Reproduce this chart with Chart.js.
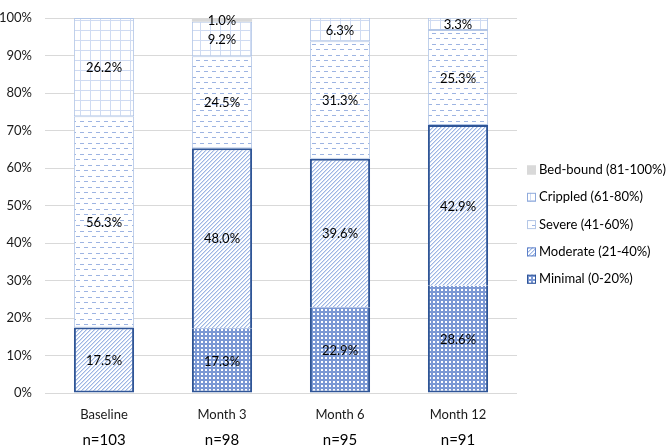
<!DOCTYPE html>
<html>
<head>
<meta charset="utf-8">
<script src="https://cdn.jsdelivr.net/npm/chart.js@4"></script>
<style>
  html, body { margin: 0; padding: 0; background: #fff; }
  #wrap { width: 667px; height: 446px; }
</style>
</head>
<body>
<div id="wrap"><canvas id="chart"></canvas></div>
<script>
// bandas de disfunção por visita (% de pacientes)
const visits = ["Baseline", "Month 3", "Month 6", "Month 12"];
const sampleSizes = ["n=103", "n=98", "n=95", "n=91"];
const minimal = [null, 17.3, 22.9, 28.6];
const moderate = [17.5, 48.0, 39.6, 42.9];
const severe = [56.3, 24.5, 31.3, 25.3];
const crippled = [26.2, 9.2, 6.3, 3.3];
const bedBound = [null, 1.0, null, null];
const yTicks = [0, 10, 20, 30, 40, 50, 60, 70, 80, 90, 100];

const FONT = "Lato, 'Liberation Sans', sans-serif";
const DARK = "#2F5597";
const LIGHT = "#B4C7E7";

Chart.defaults.font.family = FONT;
Chart.defaults.font.size = 13;
Chart.defaults.color = "#1a1a1a";

function makePattern(w, h, paint) {
  const c = document.createElement("canvas");
  c.width = w;
  c.height = h;
  const g = c.getContext("2d");
  g.fillStyle = "#ffffff";
  g.fillRect(0, 0, w, h);
  paint(g);
  return g.createPattern(c, "repeat");
}

const dotsPattern = makePattern(4, 4, (g) => {
  g.fillStyle = "#7B98D4";
  g.fillRect(0, 0, 4, 4);
  g.fillStyle = "#ffffff";
  g.fillRect(1, 1, 2, 2);
});
const diagPattern = makePattern(4, 4, (g) => {
  for (let i = 0; i < 4; i++) {
    g.fillStyle = "#9DB5E3";
    g.fillRect(i, 3 - i, 1, 1);
    g.fillStyle = "#D3DFF4";
    g.fillRect((i + 1) % 4, 3 - i, 1, 1);
  }
});
const dashPattern = makePattern(8, 11, (g) => {
  g.fillStyle = "#9DB4E2";
  g.fillRect(0, 0, 4, 1);
  g.fillRect(4, 5, 4, 1);
});
const gridPattern = makePattern(10, 10, (g) => {
  g.fillStyle = "#CFDBF2";
  g.fillRect(0, 0, 10, 1);
  g.fillRect(0, 0, 1, 10);
});

const dataLabels = {
  id: "dataLabels",
  afterDatasetsDraw(chart) {
    const { ctx } = chart;
    ctx.save();
    ctx.font = `13px ${FONT}`;
    ctx.fillStyle = "#000";
    ctx.textAlign = "center";
    ctx.textBaseline = "middle";
    chart.data.datasets.forEach((ds, di) => {
      const meta = chart.getDatasetMeta(di);
      meta.data.forEach((el, i) => {
        const v = ds.data[i];
        if (!v) return;
        const { x, y, base } = el.getProps(["x", "y", "base"], true);
        ctx.fillText(v.toFixed(1) + "%", x, (y + base) / 2 + 1);
      });
    });
    ctx.restore();
  },
};

const nLabels = {
  id: "nLabels",
  afterDraw(chart) {
    const { ctx } = chart;
    const xs = chart.scales.x;
    ctx.save();
    ctx.font = `15px ${FONT}`;
    ctx.fillStyle = "#000";
    ctx.textAlign = "center";
    ctx.textBaseline = "middle";
    sampleSizes.forEach((t, i) => ctx.fillText(t, xs.getPixelForValue(i), 440));
    ctx.restore();
  },
};

const sideLegend = {
  id: "sideLegend",
  afterDraw(chart) {
    const { ctx } = chart;
    const items = chart.data.datasets.slice().reverse();
    ctx.save();
    ctx.font = `13px ${FONT}`;
    ctx.textBaseline = "middle";
    items.forEach((ds, i) => {
      const y = 170 + i * 27.3;
      ctx.fillStyle = ds.backgroundColor;
      ctx.fillRect(527, y - 4.5, 9, 9);
      ctx.strokeStyle = ds.legendBorder;
      ctx.lineWidth = 1;
      ctx.strokeRect(527.5, y - 4, 8, 8);
      ctx.fillStyle = "#000";
      ctx.fillText(ds.label, 539, y);
    });
    ctx.restore();
  },
};

function series(label, data, fill, border, width, legendBorder, skipped) {
  return {
    label,
    data,
    backgroundColor: fill,
    borderColor: border,
    borderWidth: width,
    borderSkipped: skipped,
    legendBorder,
    barPercentage: 0.51,
    categoryPercentage: 1,
  };
}

new Chart(document.getElementById("chart"), {
  type: "bar",
  data: {
    labels: visits,
    datasets: [
      series("Minimal (0-20%)", minimal, dotsPattern, DARK, 2, DARK, "end"),
      series("Moderate (21-40%)", moderate, diagPattern, DARK, 2, "#5B7FC8",
        (c) => (minimal[c.dataIndex] ? "start" : false)),
      series("Severe (41-60%)", severe, dashPattern, LIGHT, 1, LIGHT, false),
      series("Crippled (61-80%)", crippled, gridPattern, LIGHT, 1, "#8FAADC", false),
      series("Bed-bound (81-100%)", bedBound, "#D9D9D9", "#D9D9D9", 0, "#D9D9D9", false),
    ],
  },
  options: {
    responsive: true,
    maintainAspectRatio: false,
    animation: false,
    layout: { padding: { top: 0, right: 150, bottom: 0, left: 0 } },
    plugins: { legend: { display: false }, tooltip: { enabled: false } },
    scales: {
      x: {
        stacked: true,
        grid: { display: false },
        border: { display: false },
        ticks: { padding: 6, font: { size: 13 } },
        afterFit: (s) => { s.height = 53; },
      },
      y: {
        stacked: true,
        min: 0,
        max: 100,
        afterBuildTicks: (s) => { s.ticks = yTicks.map((v) => ({ value: v })); },
        grid: { color: "#D9D9D9", drawTicks: false },
        border: { display: false },
        ticks: {
          padding: 13,
          font: { size: 13, lineHeight: 0.77 },
          callback: (v) => v + "%",
        },
        afterFit: (s) => { s.width = 45; },
      },
    },
  },
  plugins: [dataLabels, nLabels, sideLegend],
});
</script>
</body>
</html>
